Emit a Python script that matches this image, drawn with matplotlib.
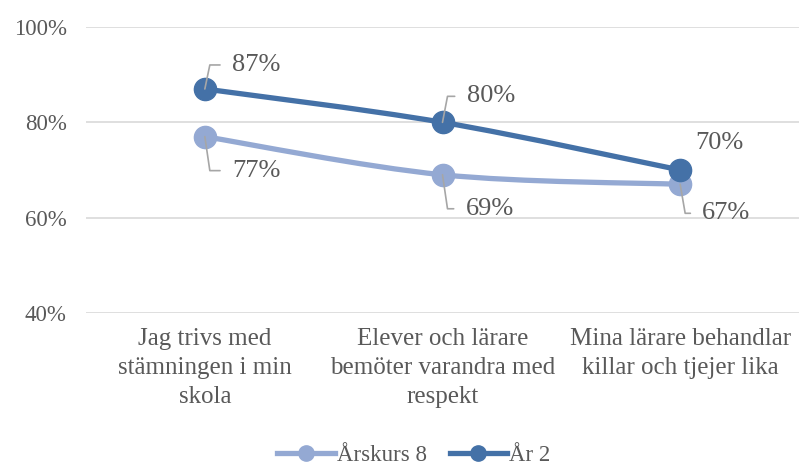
import numpy as np
import matplotlib.pyplot as plt
from matplotlib.path import Path
from matplotlib.patches import PathPatch
from matplotlib.lines import Line2D

plt.rcParams['font.family'] = ['Liberation Serif', 'DejaVu Serif']

categories = ['Jag trivs med\nstämningen i min\nskola',
              'Elever och lärare\nbemöter varandra med\nrespekt',
              'Mina lärare behandlar\nkillar och tjejer lika']
series_names = ['Årskurs 8', 'År 2']
arskurs8 = [77, 69, 67]
ar2 = [87, 80, 70]
yticks = [40, 60, 80, 100]

c_light = '#94A9D3'
c_dark = '#4471A7'
txt = '#595959'


def smooth_path(xs, ys):
    # excel style smoothed line (catmull-rom -> bezier)
    pts = np.column_stack([xs, ys]).astype(float)
    verts = [pts[0]]
    codes = [Path.MOVETO]
    n = len(pts)
    for i in range(n - 1):
        p0 = pts[i - 1] if i > 0 else pts[i]
        p1 = pts[i]
        p2 = pts[i + 1]
        p3 = pts[i + 2] if i + 2 < n else pts[i + 1]
        c1 = p1 + (p2 - p0) / 6
        c2 = p2 - (p3 - p1) / 6
        verts += [c1, c2, p2]
        codes += [Path.CURVE4] * 3
    return Path(verts, codes)


fig = plt.figure(figsize=(8.02, 4.66), dpi=100)
ax = fig.add_axes([86 / 802, 1 - 313 / 466, 713 / 802, 286 / 466])

x = np.arange(len(categories))
for vals, col in [(arskurs8, c_light), (ar2, c_dark)]:
    ax.add_patch(PathPatch(smooth_path(x, vals), fill=False, edgecolor=col,
                           lw=3.8, capstyle='round', zorder=3))
    ax.plot(x, vals, 'o', color=col, ms=16, zorder=4)

ax.set_xlim(-0.5, 2.5)
ax.set_ylim(40, 100)
ax.set_yticks(yticks)
ax.set_yticklabels([f'{t}%' for t in yticks])
ax.yaxis.grid(True, color='#D9D9D9', lw=1.2)
ax.set_axisbelow(True)
for s in ax.spines.values():
    s.set_visible(False)
ax.tick_params(axis='y', length=0, pad=14, labelsize=16.5, labelcolor=txt)
ax.set_xticks(x)
ax.set_xticklabels(categories, fontsize=18, color=txt, linespacing=1.4)
ax.tick_params(axis='x', length=0, pad=11)

# data labels: (value, x, text offset px, leader?)
labels = [
    (ar2[0], 0, (27, 24), True),
    (ar2[1], 1, (24, 26), True),
    (ar2[2], 2, (15, 27), False),
    (arskurs8[0], 0, (27, -34), True),
    (arskurs8[1], 1, (23, -34), True),
    (arskurs8[2], 2, (22, -29), True),
]
for v, xi, off, leader in labels:
    if leader:
        ang = np.degrees(np.arctan2(off[1], 5))
        ap = dict(arrowstyle='-', color='#A6A6A6', lw=1.2, relpos=(0, 0.5),
                  shrinkA=6.5, shrinkB=0,
                  connectionstyle=f'angle,angleA=0,angleB={ang}')
    else:
        ap = None
    ax.annotate(f'{v}%', (xi, v), xytext=off, textcoords='offset pixels',
                ha='left', va='center', fontsize=19, color=txt,
                arrowprops=ap, zorder=5)

handles = [Line2D([], [], color=c, lw=3.8, marker='o', ms=11)
           for c in [c_light, c_dark]]
fig.legend(handles, series_names, loc='center', bbox_to_anchor=(414 / 802, 1 - 455 / 466),
           ncol=2, frameon=False, fontsize=16.5, labelcolor=txt,
           handlelength=2.5, handletextpad=0.1, columnspacing=1.0)

fig.savefig('out.png', dpi=100)
